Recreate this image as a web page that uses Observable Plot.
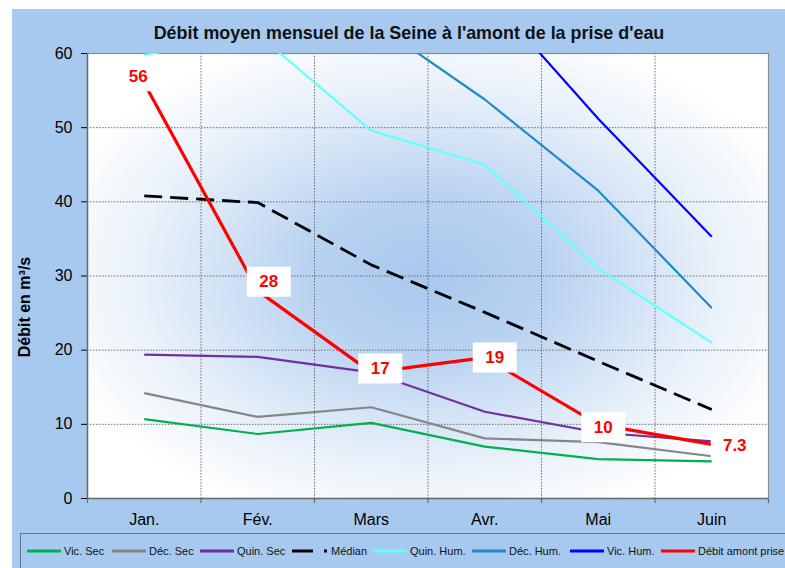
<!DOCTYPE html>
<html>
<head>
<meta charset="utf-8">
<script src="https://cdn.jsdelivr.net/npm/d3@7"></script>
<script src="https://cdn.jsdelivr.net/npm/@observablehq/plot@0.6"></script>
<style>
  html, body { margin: 0; padding: 0; background: #fff; }
  body { width: 785px; height: 568px; position: relative; overflow: hidden; font-family: "Liberation Sans", Arial, sans-serif; }
  #chart { position: absolute; left: 12px; top: 9px; width: 773px; height: 559px; background: #a8c9ef; overflow: hidden; }
  #title { position: absolute; left: 0; top: 13px; width: 794px; text-align: center; font-weight: bold; font-size: 17.9px; line-height: 22px; color: #111; white-space: nowrap; }
  #ylabel { position: absolute; left: 13px; top: 298px; transform: translate(-50%, -50%) rotate(-90deg); font-weight: bold; font-size: 16px; white-space: nowrap; color: #000; }
  #plot { position: absolute; left: 0; top: 31px; }
  #legendbox { position: absolute; left: 8px; top: 524px; width: 780px; height: 60px; border: 1.5px solid #65778a; box-sizing: border-box; }
  .li { position: absolute; top: 535px; height: 14px; display: flex; align-items: center; font-size: 11px; color: #111; white-space: nowrap; }
  .li svg { margin-right: 3px; }
</style>
</head>
<body>
<div id="chart">
  <div id="title"></div>
  <div id="ylabel"></div>
  <div id="plot"></div>
  <div id="legendbox"></div>
</div>
<script>
// ---- Data ----
const months = ["Jan.", "Fév.", "Mars", "Avr.", "Mai", "Juin"];
const vicSec  = [10.7, 8.7, 10.2, 7.0, 5.3, 5.0];
const decSec  = [14.2, 11.0, 12.3, 8.1, 7.6, 5.7];
const quinSec = [19.4, 19.1, 17.0, 11.7, 8.9, 7.7];
const median  = [40.8, 39.9, 31.5, 25.1, 18.5, 12.0];
const quinHum = [59.8, 62.6, 49.6, 45.0, 31.0, 21.0];
const decHum  = [78.0, 71.0, 64.4, 53.8, 41.5, 25.7];
const vicHum  = [95.0, 88.0, 80.0, 68.4, 51.2, 35.3];
const debit   = [56, 28, 17, 19, 10, 7.3];
const debitLabels = ["56", "28", "17", "19", "10", "7.3"];
const seriesNames = ["Vic. Sec", "Déc. Sec", "Quin. Sec", "Médian", "Quin. Hum.", "Déc. Hum.", "Vic. Hum.", "Débit amont prise"];
const yTicks = [0, 10, 20, 30, 40, 50, 60];
const titleText = "Débit moyen mensuel de la Seine à l'amont de la prise d'eau";
const yLabelText = "Débit en m³/s";

// ---- Styles ----
const seriesValues = [vicSec, decSec, quinSec, median, quinHum, decHum, vicHum, debit];
const seriesStyle = [
  {color: "#00b050", width: 2.2},
  {color: "#858585", width: 2.2},
  {color: "#7030a0", width: 2.2},
  {color: "#000000", width: 2.8, dash: "18,8"},
  {color: "#66ffff", width: 2.2},
  {color: "#1f8ac9", width: 2.2},
  {color: "#0000ff", width: 2.2},
  {color: "#ff0000", width: 3.2}
];
const labelOffsets = [[-6, -7], [11, -9], [9, -4], [10, 0], [5, 3], [23, 1]];
const legendLefts = [27, 112, 200, 292, 373, 472, 570, 661];

document.getElementById("title").textContent = titleText;
document.getElementById("ylabel").textContent = yLabelText;

const rows = [];
seriesNames.forEach((name, s) => {
  seriesValues[s].forEach((v, i) => rows.push({series: name, s, i, month: months[i], v}));
});
const debitRows = debit.map((v, i) => ({i, v, label: debitLabels[i], dx: labelOffsets[i][0], dy: labelOffsets[i][1]}));

const boxSymbol = {draw(ctx) { ctx.moveTo(-22, -15); ctx.lineTo(22, -15); ctx.lineTo(22, 15); ctx.lineTo(-22, 15); ctx.closePath(); }};
const boxSymbolWide = {draw(ctx) { ctx.moveTo(-24, -13); ctx.lineTo(24, -13); ctx.lineTo(24, 13); ctx.lineTo(-24, 13); ctx.closePath(); }};

const W = 773, H = 493;
const marks = [
  Plot.frame({fill: "url(#plotBg)", stroke: "none"}),
  Plot.ruleY([10, 20, 30, 40, 50], {stroke: "#6e6e6e", strokeWidth: 1, strokeDasharray: "1.5,1.5", strokeOpacity: 1}),
  Plot.ruleX([1, 2, 3, 4, 5], {stroke: "#6e6e6e", strokeWidth: 1, strokeDasharray: "1.5,1.5", strokeOpacity: 1}),
  Plot.ruleX([0, 1, 2, 3, 4, 5, 6], {y1: 0, y2: 0, insetBottom: -5, stroke: "#6b6b6b", strokeWidth: 1.2}),
  Plot.frame({stroke: "#8a8a8a", strokeWidth: 1.2, fill: "none"})
];
seriesNames.forEach((name, s) => {
  const st = seriesStyle[s];
  marks.push(Plot.line(rows.filter(r => r.s === s), {
    x: d => d.i + 0.5, y: "v", stroke: st.color, strokeWidth: st.width,
    strokeDasharray: st.dash, clip: true, strokeLinejoin: "round", strokeLinecap: "butt"
  }));
});
debitRows.forEach(d => {
  marks.push(Plot.dot([d], {x: e => e.i + 0.5, y: "v", dx: d.dx, dy: d.dy, symbol: d.label.length < 3 ? boxSymbol : boxSymbolWide, fill: "white", stroke: "none", r: 5}));
  marks.push(Plot.text([d], {x: e => e.i + 0.5, y: "v", text: "label", dx: d.dx, dy: d.dy, fill: "#ff0000", fontWeight: "bold", fontSize: 17, fontFamily: "Liberation Sans, Arial, sans-serif"}));
});
marks.push(Plot.ruleX([0], {stroke: "#6b6b6b", strokeWidth: 1.4}));
marks.push(Plot.ruleY([0], {stroke: "#6b6b6b", strokeWidth: 1.4}));

const chart = Plot.plot({
  width: W, height: H,
  marginLeft: 75, marginRight: 17, marginTop: 13, marginBottom: 35,
  style: {fontSize: "16px", fontFamily: "Liberation Sans, Arial, sans-serif", color: "#000", background: "transparent", overflow: "visible"},
  x: {type: "linear", domain: [0, 6], ticks: months.map((m, i) => i + 0.5), tickFormat: v => months[Math.round(v - 0.5)], tickSize: 0, tickPadding: 15, label: null},
  y: {domain: [0, 60], ticks: yTicks, tickSize: 6, tickPadding: 9, label: null},
  marks
});

// gradient definition for the plot background
const svg = d3.select(chart.tagName.toLowerCase() === "svg" ? chart : chart.querySelector("svg"));
const defs = svg.insert("defs", ":first-child");
const grad = defs.append("radialGradient").attr("id", "plotBg").attr("cx", "50%").attr("cy", "50%").attr("r", "58%");
grad.append("stop").attr("offset", "0%").attr("stop-color", "#a9c8ee");
grad.append("stop").attr("offset", "30%").attr("stop-color", "#b8d2f1");
grad.append("stop").attr("offset", "70%").attr("stop-color", "#e6eff9");
grad.append("stop").attr("offset", "100%").attr("stop-color", "#ffffff");
document.getElementById("plot").appendChild(chart);

// legend
const chartDiv = document.getElementById("chart");
seriesNames.forEach((name, s) => {
  const st = seriesStyle[s];
  const item = document.createElement("div");
  item.className = "li";
  item.style.left = (legendLefts[s] - 12) + "px";
  const w = s === 3 ? 36 : 34;
  let sw;
  if (s === 3) {
    sw = `<svg width="${w}" height="6"><line x1="0" y1="3" x2="21" y2="3" stroke="#000" stroke-width="3"/><rect x="32" y="1.5" width="3" height="3" fill="#000"/></svg>`;
  } else {
    sw = `<svg width="${w}" height="6"><line x1="0" y1="3" x2="${w}" y2="3" stroke="${st.color}" stroke-width="3"/></svg>`;
  }
  item.innerHTML = sw + `<span>${name}</span>`;
  chartDiv.appendChild(item);
});
</script>
</body>
</html>
